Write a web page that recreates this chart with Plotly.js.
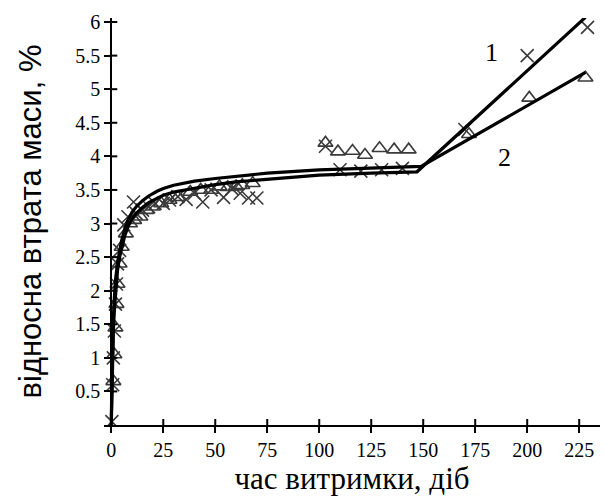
<!DOCTYPE html>
<html><head><meta charset="utf-8">
<script src="https://cdn.plot.ly/plotly-3.0.1.min.js"></script>
<style>html,body{margin:0;padding:0;background:#fff}#chart{width:606px;height:497px}</style>
</head><body><div id="chart"></div>
<script>
// Series 1 (x markers), measured points
const s1Days = [0.3, 0.7, 1, 1.5, 2, 2.5, 3, 4, 6, 8, 10.7, 12, 15, 18, 21, 25, 28, 32, 36, 40, 44, 48, 54, 58, 62, 66, 70, 103, 110, 120, 130, 140, 170, 200, 229];
const s1Loss = [0.05, 0.6, 1.0, 1.4, 1.8, 2.1, 2.4, 2.6, 2.98, 3.1, 3.32, 3.15, 3.2, 3.25, 3.3, 3.3, 3.35, 3.4, 3.36, 3.45, 3.32, 3.5, 3.39, 3.52, 3.45, 3.38, 3.38, 4.15, 3.8, 3.78, 3.8, 3.82, 4.4, 5.5, 5.92];
// Series 2 (triangle markers), measured points
const s2Days = [1, 1.5, 2, 2.5, 3, 4, 5, 7, 9, 11, 14, 17, 20, 24, 28, 32, 38, 43, 48, 52, 56, 60, 63, 68, 103, 109, 116, 122, 129, 136, 143, 172, 201, 228];
const s2Loss = [0.65, 1.05, 1.45, 1.8, 2.1, 2.4, 2.65, 2.85, 3.0, 3.05, 3.1, 3.2, 3.25, 3.3, 3.35, 3.39, 3.47, 3.5, 3.5, 3.55, 3.54, 3.55, 3.57, 3.6, 4.2, 4.07, 4.08, 4.02, 4.12, 4.1, 4.1, 4.33, 4.87, 5.17];
// Fitted curve 1
const c1Days = [0, 0.3, 0.7, 1, 1.5, 2, 3, 4, 5, 6.5, 8, 10, 12, 15, 18, 22, 25, 30, 35, 40, 50, 60, 75, 100, 125, 147, 228];
const c1Loss = [0.0, 0.6, 1.1, 1.4, 1.72, 1.98, 2.3, 2.5, 2.65, 2.82, 2.95, 3.07, 3.15, 3.24, 3.31, 3.38, 3.42, 3.47, 3.5, 3.53, 3.58, 3.62, 3.66, 3.72, 3.75, 3.77, 6.07];
// Fitted curve 2
const c2Days = [0, 0.3, 0.7, 1, 1.5, 2, 3, 4, 5, 6.5, 8, 10, 12, 15, 18, 22, 25, 30, 35, 40, 50, 60, 75, 100, 125, 149, 228];
const c2Loss = [0.1, 0.8, 1.3, 1.6, 1.9, 2.15, 2.42, 2.6, 2.75, 2.92, 3.05, 3.17, 3.25, 3.34, 3.41, 3.48, 3.52, 3.57, 3.6, 3.63, 3.67, 3.7, 3.75, 3.8, 3.83, 3.85, 5.25];
// Ticks
const xTicks = [0, 25, 50, 75, 100, 125, 150, 175, 200, 225];
const yTicks = [0.5, 1, 1.5, 2, 2.5, 3, 3.5, 4, 4.5, 5, 5.5, 6];
const yTickText = ['0.5', '1', '1.5', '2', '2.5', '3', '3.5', '4', '4.5', '5', '5.5', '6'];
const curveLabels = ['1', '2'];
const labelDays = [183, 189];
const labelLoss = [5.55, 3.99];
const xTitle = 'час витримки, діб';
const yTitle = 'відносна втрата маси, %';

const xRange = [-3.5, 235];
const yRange = [0, 6.06];
const yPos = (0 - xRange[0]) / (xRange[1] - xRange[0]);
const serif = '"Liberation Serif", "Times New Roman", serif';
const tickFont = {family: serif, size: 20, color: '#000'};

const traces = [
  {x: s1Days, y: s1Loss, type: 'scatter', mode: 'markers', name: '1',
   marker: {symbol: 'x-thin-open', size: 13, color: '#3a3a3a', line: {width: 1.6, color: '#3a3a3a'}}},
  {x: s2Days, y: s2Loss, type: 'scatter', mode: 'markers', name: '2',
   marker: {symbol: 'triangle-up-open', size: 13, color: '#3a3a3a', line: {width: 1.6, color: '#3a3a3a'}}},
  {x: c1Days, y: c1Loss, type: 'scatter', mode: 'lines', line: {color: '#000', width: 3.2}},
  {x: c2Days, y: c2Loss, type: 'scatter', mode: 'lines', line: {color: '#000', width: 3.2}}
];

// inner halves of the crossing tick marks (pixel-sized, anchored at each tick value)
const tickShapes = xTicks.map(v => ({
  type: 'line', xref: 'x', yref: 'y', ysizemode: 'pixel', yanchor: 0,
  x0: v, x1: v, y0: 0, y1: 6, line: {color: '#000', width: 2}, layer: 'above'
})).concat(yTicks.map(v => ({
  type: 'line', xref: 'x', yref: 'y', xsizemode: 'pixel', xanchor: 0,
  x0: 0, x1: 6, y0: v, y1: v, line: {color: '#000', width: 2}, layer: 'above'
})));

const layout = {
  width: 606, height: 497,
  margin: {l: 104, r: 6, t: 18, b: 72},
  paper_bgcolor: '#fff', plot_bgcolor: '#fff',
  showlegend: false,
  font: {family: serif, color: '#000'},
  xaxis: {
    range: xRange, tickvals: xTicks, ticktext: xTicks.map(String),
    showgrid: false, zeroline: false, showline: true, linecolor: '#000', linewidth: 2,
    ticks: 'outside', ticklen: 6, tickwidth: 2, tickcolor: '#000',
    tickfont: tickFont,
    title: {text: xTitle, font: {family: serif, size: 31, color: '#000'}, standoff: 0}
  },
  yaxis: {
    range: yRange, tickvals: yTicks, ticktext: yTickText,
    anchor: 'free', position: yPos,
    showgrid: false, zeroline: false, showline: true, linecolor: '#000', linewidth: 2,
    ticks: 'outside', ticklen: 6, tickwidth: 2, tickcolor: '#000',
    tickfont: tickFont,
    title: {text: yTitle, font: {family: '"Liberation Sans", Arial, sans-serif', size: 31, color: '#000'}, standoff: 23}
  },
  shapes: tickShapes,
  annotations: curveLabels.map((t, i) => ({
    x: labelDays[i], y: labelLoss[i], xref: 'x', yref: 'y', text: t, showarrow: false,
    font: {family: serif, size: 26, color: '#000'}
  }))
};

Plotly.newPlot('chart', traces, layout, {displayModeBar: false, staticPlot: true});
</script></body></html>
